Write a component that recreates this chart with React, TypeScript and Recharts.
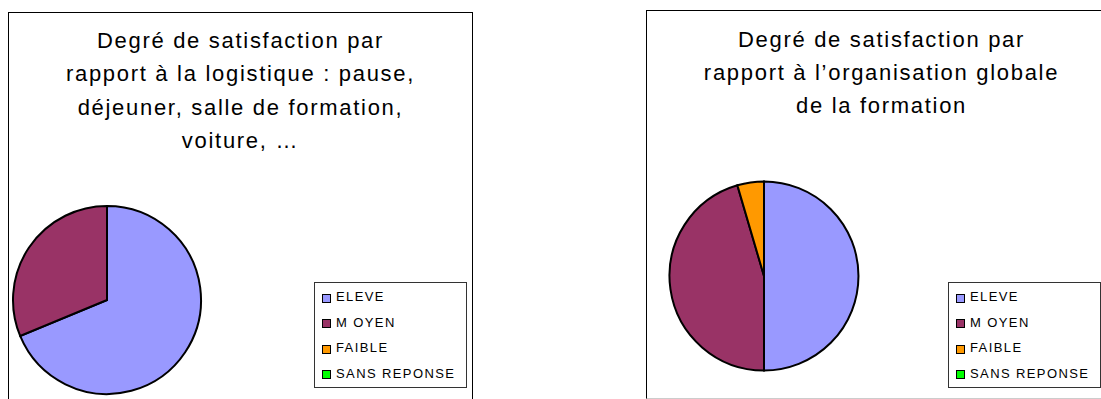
import React from "react";
import { PieChart, Pie, Cell, Legend } from "recharts";

const categories = ["ELEVE", "MOYEN", "FAIBLE", "SANS REPONSE"];
const legendLabels = ["ELEVE", "M OYEN", "FAIBLE", "SANS REPONSE"];
const colors = ["#9999FF", "#993366", "#FF9900", "#00FF00"];
const logistiqueValues = [11, 5, 0, 0];
const organisationValues = [11, 10, 1, 0];
const logistiqueTitle = ["Degré de satisfaction par", "rapport à la logistique : pause,", "déjeuner, salle de formation,", "voiture, …"];
const organisationTitle = ["Degré de satisfaction par", "rapport à l’organisation globale", "de la formation"];

const FONT = "'Liberation Sans', Arial, sans-serif";

function buildData(values: number[]) {
  return categories.map((c, i) => ({ name: c, label: legendLabels[i], value: values[i] }));
}

function LegendBox() {
  return (
    <div
      style={{
        width: 151,
        height: 103,
        border: "1px solid #333",
        background: "#fff",
        boxSizing: "content-box",
        paddingTop: 1,
      }}
    >
      {legendLabels.map((l, i) => (
        <div key={l} style={{ display: "flex", alignItems: "center", height: 25.5, paddingLeft: 7 }}>
          <div
            style={{
              width: 7,
              height: 7,
              background: colors[i],
              border: "1.3px solid #000",
              marginRight: 5,
              marginTop: 3,
            }}
          />
          <span style={{ fontFamily: FONT, fontSize: 13, letterSpacing: 1.4, color: "#000" }}>{l}</span>
        </div>
      ))}
    </div>
  );
}

type ChartProps = {
  left: number;
  top: number;
  width: number;
  height: number;
  title: string[];
  values: number[];
  cx: number;
  cy: number;
  r: number;
  legendLeft: number;
  legendTop: number;
  titleTop: number;
  border: React.CSSProperties;
};

function SatisfactionPie(p: ChartProps) {
  const data = buildData(p.values);
  return (
    <div style={{ position: "absolute", left: p.left, top: p.top, width: p.width, height: p.height, ...p.border, boxSizing: "border-box" }}>
      <div
        style={{
          position: "absolute",
          left: 0,
          top: p.titleTop,
          width: "100%",
          textAlign: "center",
          fontFamily: FONT,
          fontSize: 22,
          letterSpacing: 1.7,
          lineHeight: "33.4px",
          color: "#000",
          zIndex: 2,
        }}
      >
        {p.title.map((t) => (
          <div key={t}>{t}</div>
        ))}
      </div>
      <PieChart width={p.width - 2} height={p.height - 2} margin={{ top: 0, right: 0, bottom: 0, left: 0 }}>
        <Pie
          data={data}
          dataKey="value"
          nameKey="name"
          cx={p.cx}
          cy={p.cy}
          outerRadius={p.r}
          startAngle={90}
          endAngle={-270}
          stroke="#000"
          strokeWidth={2}
          isAnimationActive={false}
          label={false}
          labelLine={false}
        >
          {data.map((d, i) => (
            <Cell key={d.name} fill={colors[i]} />
          ))}
        </Pie>
        <Legend
          layout="vertical"
          align="right"
          verticalAlign="middle"
          content={() => <LegendBox />}
          wrapperStyle={{ position: "absolute", left: p.legendLeft, top: p.legendTop, right: "auto", bottom: "auto", width: 153 }}
        />
      </PieChart>
    </div>
  );
}

export default function App() {
  return (
    <div style={{ position: "absolute", left: 0, top: 0, width: 1101, height: 399, overflow: "hidden", background: "#fff" }}>
      <SatisfactionPie
        left={8}
        top={12}
        width={465}
        height={420}
        title={logistiqueTitle}
        values={logistiqueValues}
        cx={98}
        cy={287}
        r={94}
        legendLeft={305}
        legendTop={269}
        titleTop={11}
        border={{ border: "1px solid #000" }}
      />
      <SatisfactionPie
        left={646}
        top={10}
        width={470}
        height={389}
        title={organisationTitle}
        values={organisationValues}
        cx={117}
        cy={265}
        r={94.5}
        legendLeft={301}
        legendTop={271}
        titleTop={11.5}
        border={{ borderTop: "1px solid #000", borderLeft: "1px solid #000", borderBottom: "1px solid #ccc" }}
      />
    </div>
  );
}
